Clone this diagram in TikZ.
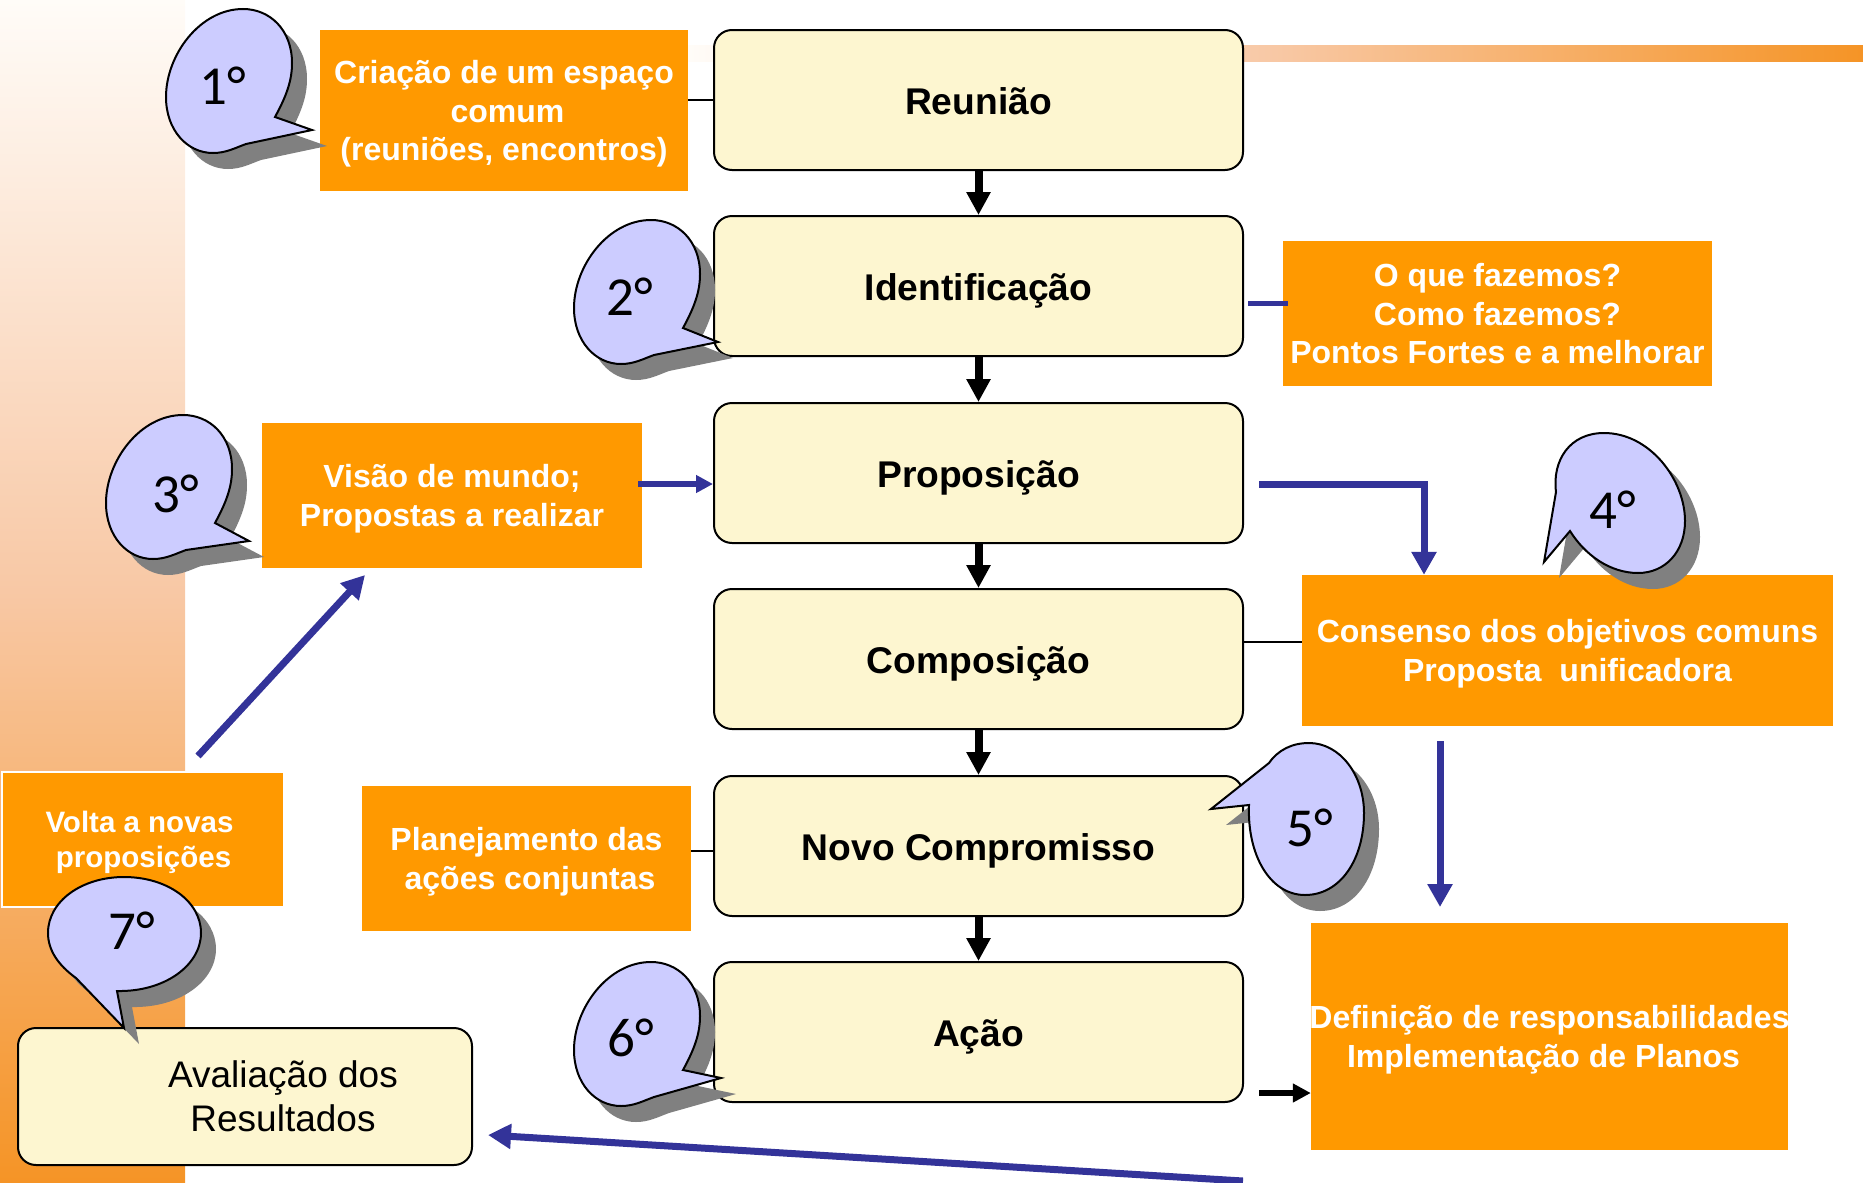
\documentclass[tikz,border=0pt]{standalone}
\usepackage{fontspec}
\setmainfont{Liberation Sans}
\newfontfamily\numberfont{Carlito}
\definecolor{boxA}{RGB}{253, 246, 208}
\definecolor{noteA}{RGB}{255, 153, 0}
\definecolor{bubbleA}{RGB}{204, 204, 255}
\definecolor{shadowA}{RGB}{128, 128, 128}
\definecolor{linkA}{RGB}{51, 51, 153}
\definecolor{panelA}{RGB}{245, 148, 38}
\definecolor{panelB}{RGB}{248, 200, 165}
\definecolor{panelC}{RGB}{255, 252, 248}
\usetikzlibrary{arrows.meta}

\newcommand{\eggpath}[1]{(46, 36) .. controls (58, 14) and (63, -1) .. (63, -18) .. controls (63, -51) and (41, -72) .. (14, -72) .. controls (-29, -72) and (-63, -26) .. (-63, 16) .. controls (-63, 49) and (-42, 72) .. (-16, 72) .. controls (-3, 72) and (6, 67) .. (17, 63) -- (#1) -- cycle}
\newcommand{\shadowed}[1]{\fill[bubbleshadow] #1; \draw[bubble] #1;}

\begin{document}
\begin{tikzpicture}[x=1pt, y=-1pt,
	stage/.style={draw=black, line width=2pt, fill=boxA, rounded corners=18pt, inner sep=0pt, minimum width=529pt, minimum height=140pt, text height=29pt, text depth=0pt, font=\fontsize{37.2}{44}\selectfont\bfseries},
	note/.style={fill=noteA, text=white, inner sep=0pt, align=center, text depth=-2pt, font=\fontsize{32}{38.5}\selectfont\bfseries},
	bubble/.style={draw=black, line width=2pt, fill=bubbleA, line join=miter},
	bubbleshadow/.style={fill=shadowA, shift={(15, 16)}},
	number/.style={inner sep=0pt, font=\fontsize{55}{55}\selectfont\numberfont},
	thinlink/.style={draw=black, line width=2pt},
	bluelink/.style={draw=linkA, line width=7pt, -{Triangle[length=23pt, width=24pt]}},
	smalllink/.style={draw=linkA, line width=6pt, -{Triangle[length=17pt, width=17pt]}},
	blacklink/.style={draw=black, line width=8pt, -{Triangle[length=23pt, width=23pt]}}]

\useasboundingbox (0, 0) rectangle (1863, 1183);

%%% BACKGROUND

\shade[top color=panelC, bottom color=panelA, middle color=panelB] (0, 0) rectangle (185, 1183);
\shade[left color=panelC, right color=panelA, middle color=panelB] (688, 45) rectangle (1863, 61);

%%% STAGES

\node[stage] (reuniao) at (978.5, 100) {Reunião};
\node[stage] (identificacao) at (978.5, 286) {Identificação};
\node[stage] (proposicao) at (978.5, 473) {Proposição};
\node[stage] (composicao) at (978.5, 659) {Composição};
\node[stage] (compromisso) at (978.5, 846) {Novo Compromisso};
\node[stage] (acao) at (978.5, 1032) {Ação};

\node[stage, minimum width=454pt, minimum height=137pt] (avaliacao) at (245, 1096.5) {};
\node[inner sep=0pt, align=center, font=\fontsize{37}{44}\selectfont] (avaliacaotext) at (283, 1096) {Avaliação dos\\Resultados};

\draw[blacklink] (reuniao) -- (identificacao);
\draw[blacklink] (identificacao) -- (proposicao);
\draw[blacklink] (proposicao) -- (composicao);
\draw[blacklink] (composicao) -- (compromisso);
\draw[blacklink] (compromisso) -- (acao);

%%% NOTES

\draw[thinlink] (reuniao.west) -- (688, 100);
\draw[thinlink] ([yshift=17.5pt]composicao.east) -- (1303, 641.5);
\draw[thinlink] ([yshift=-5pt]compromisso.west) -- (691, 851);

\node[note, minimum width=368pt, minimum height=161pt] (espaco) at (504, 110.5) {Criação de um espaço\\\hspace*{7pt}comum\\(reuniões, encontros)};
\node[note, text depth=-4pt, minimum width=429pt, minimum height=145pt] (fazemos) at (1497.5, 313.5) {O que fazemos?\\Como fazemos?\\Pontos Fortes e a melhorar};
\node[note, minimum width=380pt, minimum height=145pt] (visao) at (452, 495.5) {Visão de mundo;\\Propostas a realizar};
\node[note, minimum width=531pt, minimum height=151pt] (consenso) at (1567.5, 650.5) {Consenso dos objetivos comuns\\Proposta~ unificadora};
\node[note, draw=white, line width=2pt, minimum width=282pt, minimum height=135pt, font=\fontsize{29.5}{34.5}\selectfont\bfseries] (volta) at (143, 839.5) {Volta a novas\hspace*{7pt}\\\hspace*{1pt}proposições};
\node[note, minimum width=329pt, minimum height=145pt] (planejamento) at (526.5, 858.5) {Planejamento das\\\hspace*{7pt}ações conjuntas};
\node[note, inner xsep=-3pt, minimum width=477pt, minimum height=227pt] (definicao) at (1549.5, 1036.5) {Definição de responsabilidades\\Implementação de Planos\hspace*{12pt}};

%%% LINKS

\coordinate (fazemosfrom) at (1248, 303);
\coordinate (fazemosto) at (1288, 303);
\coordinate (definicaofrom) at (1440, 741);
\coordinate (definicaoto) at (1440, 907);
\coordinate (acaofrom) at (1243, 1181);
\coordinate (avaliacaoto) at (488, 1135);
\coordinate (voltafrom) at (198, 756);
\coordinate (visaoto) at (365, 575);

\draw[draw=linkA, line width=5pt] (fazemosfrom) -- (fazemosto);
\draw[smalllink] ([xshift=-4pt, yshift=11.5pt]visao.east) -- ([yshift=-11pt]proposicao.west);
\draw[bluelink] ([xshift=15pt, yshift=-11pt]proposicao.east) -| ([xshift=-143.5pt]consenso.north);
\draw[bluelink] (definicaofrom) -- (definicaoto);
\draw[blacklink, line width=6pt, -{Triangle[length=18pt, width=18pt]}] ([xshift=15pt, yshift=-61pt]acao.east) -- ([yshift=-56.5pt]definicao.west);
\draw[bluelink] (acaofrom) -- (avaliacaoto);
\draw[bluelink] (voltafrom) -- (visaoto);

%%% BUBBLES

\begin{scope}[shift={(229, 81)}]
\shadowed{\eggpath{83, 49}}
\end{scope}
\node[number] (numberone) at (223, 86) {1°};

\begin{scope}[shift={(637, 292)}]
\shadowed{\eggpath{81, 50}}
\end{scope}
\node[number] (numbertwo) at (630, 297) {2°};

\begin{scope}[shift={(169, 487)}]
\shadowed{\eggpath{80, 54}}
\end{scope}
\node[number] (numberthree) at (176, 494) {3°};

\shadowed{(1556, 492) .. controls (1552, 460) and (1570, 433) .. (1604, 433) .. controls (1650, 433) and (1685, 480) .. (1685, 521) .. controls (1685, 552) and (1665, 573) .. (1638, 573) .. controls (1610, 573) and (1585, 555) .. (1570, 531) -- (1544, 562) -- cycle}
\node[number] (numberfour) at (1613, 510) {4°};

\shadowed{(1249, 805) .. controls (1247, 855) and (1270, 895) .. (1305, 895) .. controls (1340, 895) and (1364, 860) .. (1364, 813) .. controls (1364, 775) and (1340, 743) .. (1309, 743) .. controls (1292, 743) and (1278, 750) .. (1269, 763) -- (1211, 809) -- cycle}
\node[number] (numberfive) at (1310, 828) {5°};

\begin{scope}[shift={(637, 1034)}]
\shadowed{\eggpath{84, 44}}
\end{scope}
\node[number] (numbersix) at (631, 1038) {6°};

\shadowed{(117, 991) .. controls (165, 992) and (201, 965) .. (201, 933) .. controls (201, 901) and (167, 877) .. (124, 877) .. controls (82, 877) and (48, 901) .. (48, 933) .. controls (48, 950) and (58, 965) .. (76, 978) -- (124, 1028) -- cycle}
\node[number] (numberseven) at (132, 931) {7°};

\end{tikzpicture}
\end{document}
